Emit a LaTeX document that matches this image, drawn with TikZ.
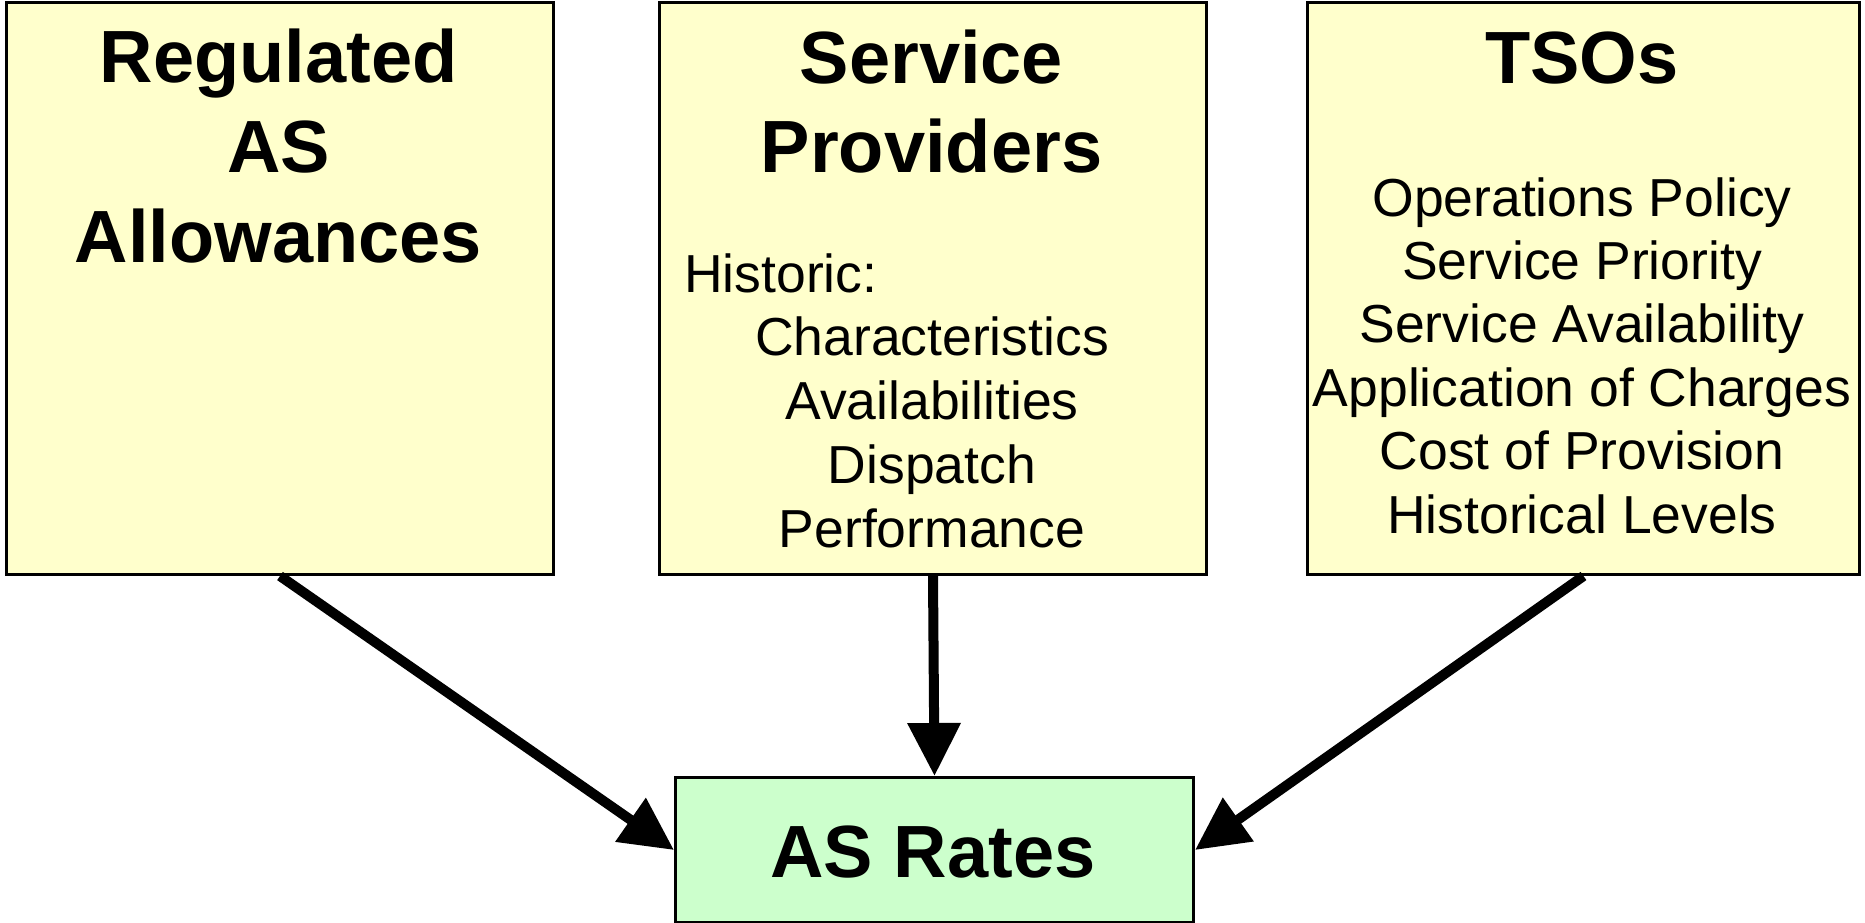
\documentclass[tikz,border=0pt]{standalone}
\usepackage{fontspec}
\setmainfont{Liberation Sans}
\usetikzlibrary{arrows.meta}
\definecolor{paleyellow}{HTML}{FFFFCC}
\definecolor{palegreen}{HTML}{CCFFCC}

\begin{document}
\begin{tikzpicture}[x=1pt,y=-1pt,
	box/.style={draw=black,line width=3pt,fill=#1,inner sep=0pt,anchor=north west},
	title/.style={font=\bfseries\fontsize{74}{89}\selectfont,inner sep=0pt,anchor=base},
	body/.style={font=\fontsize{53.5}{64}\selectfont,inner sep=0pt,anchor=base},
	arr/.style={line width=10pt,-{Triangle[length=53pt,width=51pt]}}]
	\useasboundingbox (0,0) rectangle (1865,922);
	%boxes
	\node [box=paleyellow,minimum width=547pt,minimum height=572pt] (reg) at (5,1) {};
	\node [box=paleyellow,minimum width=547pt,minimum height=572pt] (prov) at (658,1) {};
	\node [box=paleyellow,minimum width=552pt,minimum height=572pt] (tso) at (1306,1) {};
	\node [box=palegreen,minimum width=518pt,minimum height=145pt] (rates) at (674,776) {};
	%titles
	\node [title] (regA) at (278.5,82) {Regulated};
	\node [title] (regB) at (278.5,172) {AS};
	\node [title] (regC) at (278.5,262) {Allowances};
	\node [title] (provA) at (931.5,83) {Service};
	\node [title] (provB) at (931.5,172) {Providers};
	\node [title] (tsoA) at (1582,83) {TSOs};
	\node [title] (ratesA) at (933,877) {AS Rates};
	%lists
	\node [body,anchor=base west] (hist) at (684,292) {Historic:};
	\foreach \t [count=\i from 0] in {Characteristics,Availabilities,Dispatch,Performance}{
		\node [body] (prov\i) at (932,355+64*\i) {\t};
	}
	\foreach \t [count=\i from 0] in {Operations Policy,Service Priority,Service Availability,Application of Charges,Cost of Provision,Historical Levels}{
		\node [body] (tso\i) at (1582,216+63.4*\i) {\t};
	}
	%arrows
	\draw [arr] (reg.south) -- (rates.west);
	\draw [arr] (prov.south) -- (rates.north);
	\draw [arr] (tso.south) -- (rates.east);
\end{tikzpicture}
\end{document}
